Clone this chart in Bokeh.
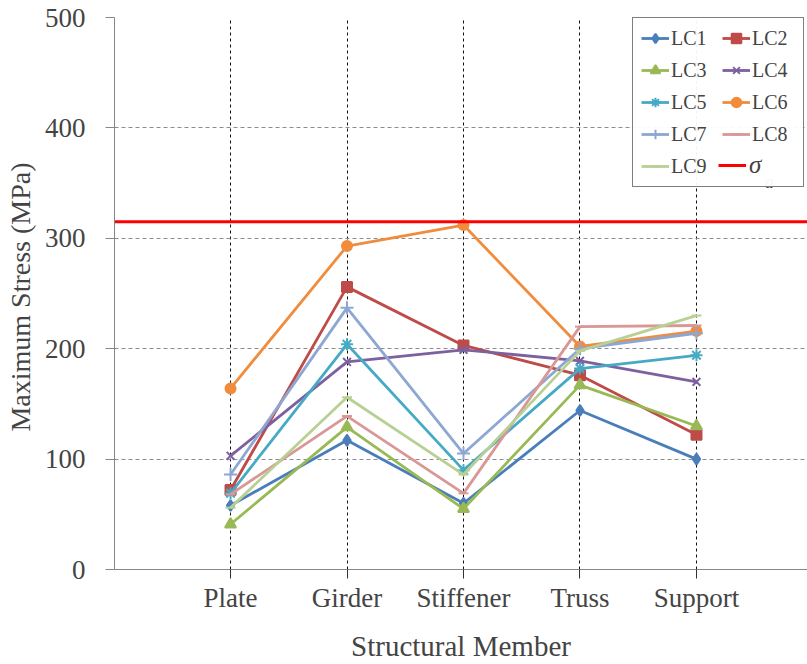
from bokeh.plotting import figure
from bokeh.models import Range1d, FixedTicker, Legend, LegendItem, Label
from bokeh.embed import file_html
from bokeh.resources import INLINE

# Structural members along the x axis
members = ["Plate", "Girder", "Stiffener", "Truss", "Support"]

# Maximum stress (MPa) for each load case
lc1 = [58, 117, 60, 144, 100]
lc2 = [72, 256, 203, 176, 122]
lc3 = [41, 129, 55, 167, 130]
lc4 = [103, 188, 199, 189, 170]
lc5 = [69, 204, 90, 182, 194]
lc6 = [164, 293, 312, 202, 216]
lc7 = [86, 237, 105, 200, 214]
lc8 = [68, 139, 69, 220, 221]
lc9 = [56, 156, 86, 198, 230]

# Allowable stress (MPa)
sigma_a = 315

y_ticks = [0, 100, 200, 300, 400, 500]

series = [
    ("LC1", lc1, "#4A7EBB", "diamond", 11),
    ("LC2", lc2, "#BE4B48", "square", 10),
    ("LC3", lc3, "#98B954", "triangle", 11),
    ("LC4", lc4, "#7D60A0", "x", 11),
    ("LC5", lc5, "#46AAC5", "asterisk", 12),
    ("LC6", lc6, "#F08C3C", "circle", 10),
    ("LC7", lc7, "#8EA7D2", "cross", 13),
    ("LC8", lc8, "#D99795", "dash", 10),
    ("LC9", lc9, "#B9D094", "dash", 10),
]

FONT = "Liberation Serif"
x = list(range(len(members)))
x_lo, x_hi = -0.996, 4.953

p = figure(width=807, height=664, output_backend="svg", toolbar_location=None,
           x_range=Range1d(x_lo, x_hi), y_range=Range1d(0, 500),
           min_border_left=114, min_border_right=0, min_border_top=17,
           min_border_bottom=92)
p.outline_line_color = None

# x axis: member names
p.xaxis.ticker = FixedTicker(ticks=x)
p.xaxis.major_label_overrides = {i: m for i, m in enumerate(members)}
p.xaxis.axis_label = "Structural Member"
p.xaxis.major_label_text_font = FONT
p.xaxis.major_label_text_font_size = "27px"
p.xaxis.axis_label_text_font = FONT
p.xaxis.axis_label_text_font_size = "29px"
p.xaxis.axis_label_text_font_style = "normal"
p.xaxis.axis_line_color = "#868686"
p.xaxis.major_tick_in = 0
p.xaxis.major_tick_out = 9
p.xaxis.major_tick_line_color = "#333333"
p.xaxis.minor_tick_line_color = None
p.xaxis.major_label_standoff = 4
p.xaxis.axis_label_standoff = 14

# y axis: stress in MPa
p.yaxis.ticker = FixedTicker(ticks=y_ticks)
p.yaxis.axis_label = "Maximum  Stress (MPa)"
p.yaxis.major_label_text_font = FONT
p.yaxis.major_label_text_font_size = "27px"
p.yaxis.axis_label_text_font = FONT
p.yaxis.axis_label_text_font_size = "28px"
p.yaxis.axis_label_text_font_style = "normal"
p.yaxis.axis_line_color = "#868686"
p.yaxis.major_tick_in = 0
p.yaxis.major_tick_out = 9
p.yaxis.major_tick_line_color = "#868686"
p.yaxis.minor_tick_line_color = None
p.yaxis.major_label_standoff = 20
p.yaxis.axis_label_standoff = 6

# Grid: black dashed verticals at each member, grey dashed horizontals
p.xgrid.ticker = FixedTicker(ticks=x)
p.xgrid.grid_line_color = "#111111"
p.xgrid.grid_line_dash = "3 3"
p.ygrid.ticker = FixedTicker(ticks=y_ticks[1:-1])
p.ygrid.grid_line_color = "#8C8C8C"
p.ygrid.grid_line_dash = "4 3"

items = []
for name, vals, color, marker, size in series:
    ln = p.line(x, vals, line_color=color, line_width=2.8)
    sc = p.scatter(x, vals, marker=marker, size=size, fill_color=color,
                   line_color=color, line_width=2)
    items.append(LegendItem(label=name, renderers=[ln, sc]))

# Allowable stress line across the full width of the plot
sig = p.line([x_lo, x_hi], [sigma_a, sigma_a], line_color="#FF0000",
             line_width=3)

legend = Legend(items=items, location=(518, 382), ncols=2,
                orientation="horizontal", spacing=8, padding=8, margin=0,
                label_text_font=FONT, label_text_font_size="20px",
                glyph_width=28, glyph_height=24, label_height=24,
                label_width=43, label_standoff=2,
                border_line_color="#000000", border_line_width=1)
p.add_layout(legend, "center")

# Allowable stress entry (italic sigma) in the last legend slot
sig_legend = Legend(items=[LegendItem(label="σ", renderers=[sig])],
                    location=(604, 390), padding=0, spacing=0, margin=0,
                    label_text_font=FONT, label_text_font_size="25px",
                    label_text_font_style="italic", glyph_width=28,
                    glyph_height=24, label_height=24, label_standoff=3,
                    border_line_color=None, background_fill_alpha=0)
p.add_layout(sig_legend, "center")

# Subscript "a" of the allowable stress symbol
p.add_layout(Label(x=4.585, y=351, text="a", text_font=FONT,
                   text_font_size="18px", text_font_style="italic",
                   text_baseline="alphabetic", level="overlay"))

open("out.html", "w").write(file_html(p, INLINE))
